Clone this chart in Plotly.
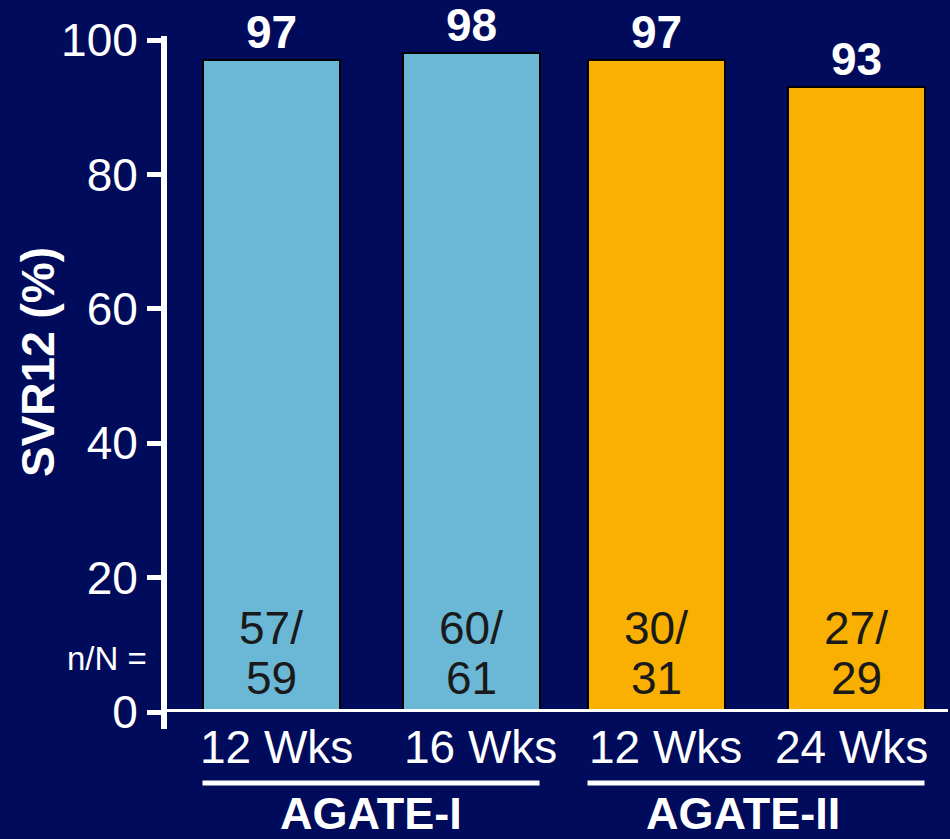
import plotly.graph_objects as go

# SVR12 rates by study arm
arms = ["12 Wks", "16 Wks", "12 Wks", "24 Wks"]
studies = ["AGATE-I", "AGATE-II"]
study_of_arm = [0, 0, 1, 1]
svr12 = [97, 98, 97, 93]
responders = [57, 60, 30, 27]
patients = [59, 61, 31, 29]
y_ticks = [0, 20, 40, 60, 80, 100]

# layout of the bars along the x axis (in bar-spacing units)
bar_pos = [0.0, 1.0, 1.925, 2.925]
bar_width = 0.685
x_range = [-0.535, 3.385]
label_nudge = [5, 9, 9, -5]

BG = "#000B5B"
BLUE = "#6AB7D6"
ORANGE = "#F9B000"
FONT = "Liberation Sans, Arial, sans-serif"
colors = [BLUE, BLUE, ORANGE, ORANGE]

fig = go.Figure()
fig.add_trace(go.Bar(
    x=bar_pos, y=svr12, width=bar_width,
    marker=dict(color=colors, line=dict(color="#000000", width=2)),
    hoverinfo="skip",
))


def xpaper(v):
    return (v - x_range[0]) / (x_range[1] - x_range[0])


ann = []
for i, (x, v) in enumerate(zip(bar_pos, svr12)):
    # value above the bar
    ann.append(dict(x=x, y=v, xref="x", yref="y", text=f"<b>{v}</b>",
                    showarrow=False, yanchor="bottom", xanchor="center",
                    font=dict(size=46, color="white", family=FONT)))
    # n/N inside the bar, two lines
    ann.append(dict(x=x, y=12.5, xref="x", yref="y", text=f"{responders[i]}/",
                    showarrow=False, yanchor="middle", xanchor="center",
                    font=dict(size=46, color="#1A1A1A", family=FONT)))
    ann.append(dict(x=x, y=5.0, xref="x", yref="y", text=f"{patients[i]}",
                    showarrow=False, yanchor="middle", xanchor="center",
                    font=dict(size=46, color="#1A1A1A", family=FONT)))
    # arm label below the axis
    ann.append(dict(x=x, y=-0.0526, xref="x", yref="paper", text=arms[i],
                    xshift=label_nudge[i],
                    showarrow=False, yanchor="middle", xanchor="center",
                    font=dict(size=46, color="white", family=FONT)))

shapes = []
study_shift = [0, -13]
for g, name in enumerate(studies):
    members = [bar_pos[i] for i in range(len(bar_pos)) if study_of_arm[i] == g]
    left = min(members) - bar_width / 2
    right = max(members) + bar_width / 2
    shapes.append(dict(type="line", xref="paper", yref="paper",
                       x0=xpaper(left), x1=xpaper(right), y0=-0.1057, y1=-0.1057,
                       line=dict(color="white", width=5)))
    ann.append(dict(x=(left + right) / 2, y=-0.1515, xref="x", yref="paper",
                    text=f"<b>{name}</b>", xshift=study_shift[g],
                    showarrow=False, yanchor="middle", xanchor="center",
                    font=dict(size=45, color="white", family=FONT)))

ann.append(dict(x=-0.019, y=0.079, xref="paper", yref="paper", text="n/N =",
                showarrow=False, xanchor="right", yanchor="middle",
                font=dict(size=33, color="white", family=FONT)))
ann.append(dict(x=-0.1607, y=0.5208, xref="paper", yref="paper",
                text="<b>SVR12 (%)</b>", textangle=-90,
                showarrow=False, xanchor="center", yanchor="middle",
                font=dict(size=46, color="white", family=FONT)))

# axis lines
shapes.append(dict(type="line", xref="paper", yref="paper", x0=0, x1=0,
                   y0=-0.0253, y1=1.006, line=dict(color="white", width=6)))
shapes.append(dict(type="line", xref="paper", yref="y", x0=0, x1=1,
                   y0=0, y1=0, line=dict(color="white", width=6)))

fig.update_layout(
    width=950, height=839,
    margin=dict(l=164, r=2, t=40, b=127),
    paper_bgcolor=BG, plot_bgcolor=BG,
    showlegend=False,
    bargap=0,
    xaxis=dict(range=x_range, showticklabels=False, showgrid=False,
               zeroline=False, showline=False, ticks=""),
    yaxis=dict(range=[0, 100], tickvals=y_ticks, ticks="outside",
               ticklen=16, tickwidth=5, tickcolor="white",
               tickfont=dict(size=46, color="white", family=FONT),
               showgrid=False, zeroline=False, showline=False),
    annotations=ann,
    shapes=shapes,
)

fig.write_html("out.html")
